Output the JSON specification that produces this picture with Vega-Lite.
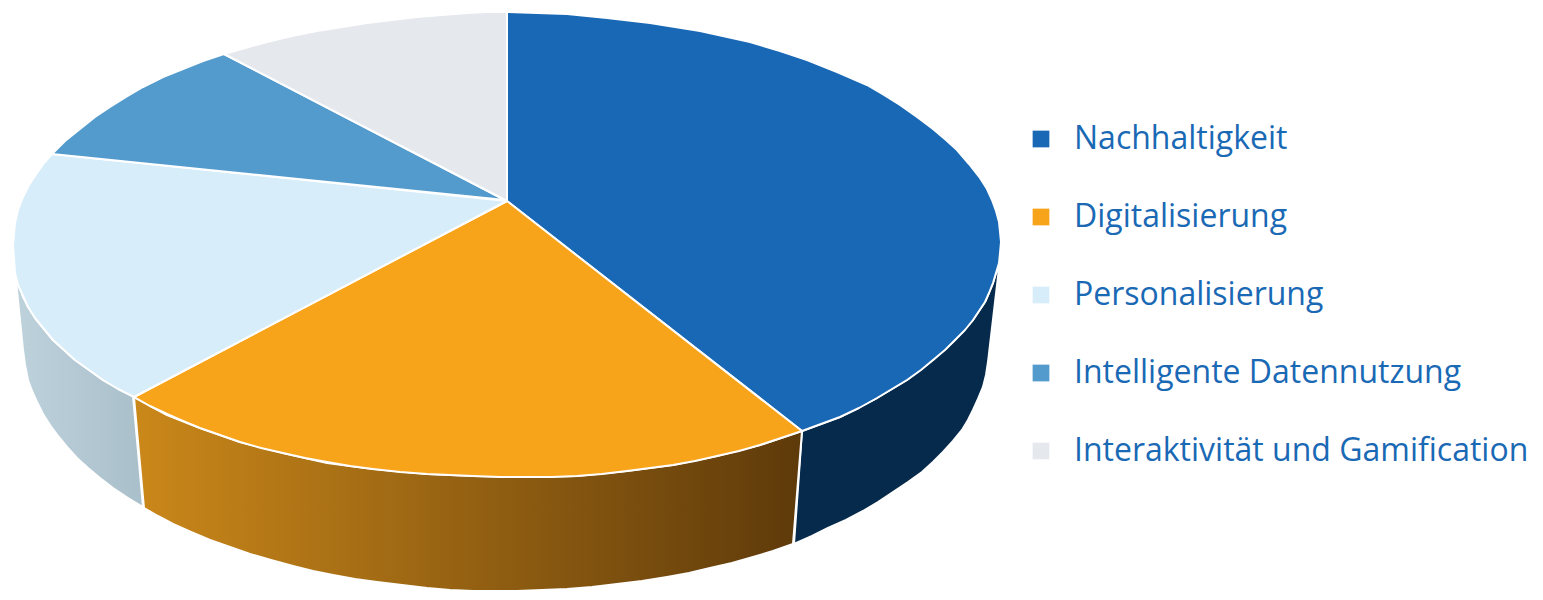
{"$schema":"https://vega.github.io/schema/vega-lite/v6.json","width":1543,"height":600,"padding":0,"autosize":{"type":"fit","contains":"padding"},"background":"white","config":{"view":{"stroke":null}},
"datasets":{
"dark":[{"s":1,"x":999,"y":268},{"s":2,"x":996,"y":273},{"s":3,"x":993,"y":283},{"s":4,"x":985,"y":302},{"s":5,"x":973,"y":320},{"s":6,"x":955,"y":340},{"s":7,"x":933,"y":360},{"s":8,"x":907,"y":380},{"s":9,"x":877,"y":398},{"s":10,"x":840,"y":417},{"s":11,"x":802,"y":431},{"s":12,"x":794,"y":544},{"s":13,"x":812,"y":536},{"s":14,"x":828,"y":528},{"s":15,"x":846,"y":520},{"s":16,"x":863,"y":511},{"s":17,"x":878,"y":502},{"s":18,"x":893,"y":492},{"s":19,"x":908,"y":482},{"s":20,"x":922,"y":472},{"s":21,"x":933,"y":462},{"s":22,"x":943,"y":452},{"s":23,"x":953,"y":441},{"s":24,"x":962,"y":430},{"s":25,"x":968,"y":420},{"s":26,"x":973,"y":410},{"s":27,"x":978,"y":399},{"s":28,"x":983,"y":387},{"s":29,"x":986,"y":375},{"s":30,"x":988,"y":362},{"s":31,"x":999,"y":268}],
"orange":[{"s":1,"x":134,"y":397},{"s":2,"x":167,"y":415},{"s":3,"x":200,"y":428},{"s":4,"x":240,"y":442},{"s":5,"x":283,"y":453},{"s":6,"x":327,"y":463},{"s":7,"x":373,"y":469},{"s":8,"x":427,"y":474},{"s":9,"x":473,"y":476},{"s":10,"x":527,"y":477},{"s":11,"x":577,"y":476},{"s":12,"x":627,"y":471},{"s":13,"x":673,"y":465},{"s":14,"x":717,"y":456},{"s":15,"x":760,"y":445},{"s":16,"x":802,"y":431},{"s":17,"x":793,"y":544},{"s":18,"x":773,"y":551},{"s":19,"x":753,"y":557},{"s":20,"x":732,"y":563},{"s":21,"x":710,"y":568},{"s":22,"x":689,"y":573},{"s":23,"x":667,"y":577},{"s":24,"x":642,"y":581},{"s":25,"x":617,"y":584},{"s":26,"x":592,"y":587},{"s":27,"x":567,"y":589},{"s":28,"x":542,"y":590},{"s":29,"x":517,"y":591},{"s":30,"x":495,"y":591},{"s":31,"x":473,"y":591},{"s":32,"x":450,"y":590},{"s":33,"x":427,"y":588},{"s":34,"x":402,"y":585},{"s":35,"x":377,"y":582},{"s":36,"x":355,"y":579},{"s":37,"x":333,"y":575},{"s":38,"x":313,"y":571},{"s":39,"x":293,"y":566},{"s":40,"x":271,"y":560},{"s":41,"x":250,"y":554},{"s":42,"x":230,"y":547},{"s":43,"x":210,"y":540},{"s":44,"x":191,"y":532},{"s":45,"x":173,"y":524},{"s":46,"x":158,"y":516},{"s":47,"x":144,"y":508},{"s":48,"x":134,"y":397}],
"light":[{"s":1,"x":15,"y":270},{"s":2,"x":23,"y":297},{"s":3,"x":35,"y":318},{"s":4,"x":53,"y":340},{"s":5,"x":75,"y":360},{"s":6,"x":103,"y":380},{"s":7,"x":133,"y":396},{"s":8,"x":143,"y":507},{"s":9,"x":128,"y":498},{"s":10,"x":113,"y":488},{"s":11,"x":100,"y":478},{"s":12,"x":88,"y":468},{"s":13,"x":77,"y":458},{"s":14,"x":67,"y":447},{"s":15,"x":58,"y":436},{"s":16,"x":50,"y":425},{"s":17,"x":43,"y":414},{"s":18,"x":37,"y":402},{"s":19,"x":32,"y":391},{"s":20,"x":28,"y":380},{"s":21,"x":25,"y":365},{"s":22,"x":23,"y":350},{"s":23,"x":15,"y":270}],
"tops":[
{"t":"Nachhaltigkeit","s":1,"x":507,"y":201},{"t":"Nachhaltigkeit","s":2,"x":507,"y":12},{"t":"Nachhaltigkeit","s":3,"x":537,"y":13},{"t":"Nachhaltigkeit","s":4,"x":567,"y":14},{"t":"Nachhaltigkeit","s":5,"x":607,"y":18},{"t":"Nachhaltigkeit","s":6,"x":650,"y":23},{"t":"Nachhaltigkeit","s":7,"x":700,"y":31},{"t":"Nachhaltigkeit","s":8,"x":750,"y":42},{"t":"Nachhaltigkeit","s":9,"x":780,"y":51},{"t":"Nachhaltigkeit","s":10,"x":807,"y":60},{"t":"Nachhaltigkeit","s":11,"x":837,"y":72},{"t":"Nachhaltigkeit","s":12,"x":867,"y":85},{"t":"Nachhaltigkeit","s":13,"x":884,"y":95},{"t":"Nachhaltigkeit","s":14,"x":900,"y":105},{"t":"Nachhaltigkeit","s":15,"x":917,"y":117},{"t":"Nachhaltigkeit","s":16,"x":933,"y":129},{"t":"Nachhaltigkeit","s":17,"x":946,"y":140},{"t":"Nachhaltigkeit","s":18,"x":957,"y":150},{"t":"Nachhaltigkeit","s":19,"x":969,"y":164},{"t":"Nachhaltigkeit","s":20,"x":980,"y":178},{"t":"Nachhaltigkeit","s":21,"x":987,"y":189},{"t":"Nachhaltigkeit","s":22,"x":992,"y":200},{"t":"Nachhaltigkeit","s":23,"x":996,"y":211},{"t":"Nachhaltigkeit","s":24,"x":999,"y":222},{"t":"Nachhaltigkeit","s":25,"x":1000,"y":232},{"t":"Nachhaltigkeit","s":26,"x":1001,"y":242},{"t":"Nachhaltigkeit","s":27,"x":1000,"y":253},{"t":"Nachhaltigkeit","s":28,"x":999,"y":263},{"t":"Nachhaltigkeit","s":29,"x":996,"y":273},{"t":"Nachhaltigkeit","s":30,"x":993,"y":283},{"t":"Nachhaltigkeit","s":31,"x":989,"y":293},{"t":"Nachhaltigkeit","s":32,"x":985,"y":302},{"t":"Nachhaltigkeit","s":33,"x":979,"y":311},{"t":"Nachhaltigkeit","s":34,"x":973,"y":320},{"t":"Nachhaltigkeit","s":35,"x":965,"y":330},{"t":"Nachhaltigkeit","s":36,"x":955,"y":340},{"t":"Nachhaltigkeit","s":37,"x":945,"y":350},{"t":"Nachhaltigkeit","s":38,"x":933,"y":360},{"t":"Nachhaltigkeit","s":39,"x":921,"y":370},{"t":"Nachhaltigkeit","s":40,"x":907,"y":380},{"t":"Nachhaltigkeit","s":41,"x":892,"y":389},{"t":"Nachhaltigkeit","s":42,"x":877,"y":398},{"t":"Nachhaltigkeit","s":43,"x":859,"y":408},{"t":"Nachhaltigkeit","s":44,"x":840,"y":417},{"t":"Nachhaltigkeit","s":45,"x":821,"y":424},{"t":"Nachhaltigkeit","s":46,"x":802,"y":431},{"t":"Nachhaltigkeit","s":47,"x":507,"y":201},
{"t":"Digitalisierung","s":1,"x":507,"y":201},{"t":"Digitalisierung","s":2,"x":802,"y":431},{"t":"Digitalisierung","s":3,"x":781,"y":438},{"t":"Digitalisierung","s":4,"x":760,"y":445},{"t":"Digitalisierung","s":5,"x":739,"y":451},{"t":"Digitalisierung","s":6,"x":717,"y":456},{"t":"Digitalisierung","s":7,"x":695,"y":461},{"t":"Digitalisierung","s":8,"x":673,"y":465},{"t":"Digitalisierung","s":9,"x":650,"y":468},{"t":"Digitalisierung","s":10,"x":627,"y":471},{"t":"Digitalisierung","s":11,"x":602,"y":474},{"t":"Digitalisierung","s":12,"x":577,"y":476},{"t":"Digitalisierung","s":13,"x":552,"y":477},{"t":"Digitalisierung","s":14,"x":527,"y":477},{"t":"Digitalisierung","s":15,"x":500,"y":477},{"t":"Digitalisierung","s":16,"x":473,"y":476},{"t":"Digitalisierung","s":17,"x":450,"y":475},{"t":"Digitalisierung","s":18,"x":427,"y":474},{"t":"Digitalisierung","s":19,"x":400,"y":472},{"t":"Digitalisierung","s":20,"x":373,"y":469},{"t":"Digitalisierung","s":21,"x":350,"y":466},{"t":"Digitalisierung","s":22,"x":327,"y":462},{"t":"Digitalisierung","s":23,"x":305,"y":458},{"t":"Digitalisierung","s":24,"x":283,"y":453},{"t":"Digitalisierung","s":25,"x":261,"y":448},{"t":"Digitalisierung","s":26,"x":240,"y":442},{"t":"Digitalisierung","s":27,"x":220,"y":435},{"t":"Digitalisierung","s":28,"x":200,"y":428},{"t":"Digitalisierung","s":29,"x":183,"y":421},{"t":"Digitalisierung","s":30,"x":167,"y":414},{"t":"Digitalisierung","s":31,"x":150,"y":406},{"t":"Digitalisierung","s":32,"x":134,"y":397},{"t":"Digitalisierung","s":33,"x":507,"y":201},
{"t":"Personalisierung","s":1,"x":507,"y":201},{"t":"Personalisierung","s":2,"x":134,"y":397},{"t":"Personalisierung","s":3,"x":118,"y":389},{"t":"Personalisierung","s":4,"x":103,"y":380},{"t":"Personalisierung","s":5,"x":89,"y":370},{"t":"Personalisierung","s":6,"x":75,"y":360},{"t":"Personalisierung","s":7,"x":64,"y":350},{"t":"Personalisierung","s":8,"x":53,"y":340},{"t":"Personalisierung","s":9,"x":44,"y":329},{"t":"Personalisierung","s":10,"x":35,"y":318},{"t":"Personalisierung","s":11,"x":28,"y":307},{"t":"Personalisierung","s":12,"x":23,"y":296},{"t":"Personalisierung","s":13,"x":18,"y":285},{"t":"Personalisierung","s":14,"x":15,"y":273},{"t":"Personalisierung","s":15,"x":14,"y":259},{"t":"Personalisierung","s":16,"x":13,"y":245},{"t":"Personalisierung","s":17,"x":14,"y":234},{"t":"Personalisierung","s":18,"x":15,"y":223},{"t":"Personalisierung","s":19,"x":18,"y":210},{"t":"Personalisierung","s":20,"x":23,"y":197},{"t":"Personalisierung","s":21,"x":29,"y":185},{"t":"Personalisierung","s":22,"x":37,"y":173},{"t":"Personalisierung","s":23,"x":44,"y":163},{"t":"Personalisierung","s":24,"x":52,"y":154},{"t":"Personalisierung","s":25,"x":507,"y":201},
{"t":"Intelligente Datennutzung","s":1,"x":505,"y":200},{"t":"Intelligente Datennutzung","s":2,"x":52,"y":154},{"t":"Intelligente Datennutzung","s":3,"x":65,"y":141},{"t":"Intelligente Datennutzung","s":4,"x":80,"y":129},{"t":"Intelligente Datennutzung","s":5,"x":95,"y":117},{"t":"Intelligente Datennutzung","s":6,"x":110,"y":107},{"t":"Intelligente Datennutzung","s":7,"x":126,"y":97},{"t":"Intelligente Datennutzung","s":8,"x":143,"y":87},{"t":"Intelligente Datennutzung","s":9,"x":163,"y":77},{"t":"Intelligente Datennutzung","s":10,"x":183,"y":69},{"t":"Intelligente Datennutzung","s":11,"x":203,"y":61},{"t":"Intelligente Datennutzung","s":12,"x":224,"y":54},{"t":"Intelligente Datennutzung","s":13,"x":505,"y":200},
{"t":"Interaktivität und Gamification","s":1,"x":507,"y":201},{"t":"Interaktivität und Gamification","s":2,"x":224,"y":54},{"t":"Interaktivität und Gamification","s":3,"x":245,"y":48},{"t":"Interaktivität und Gamification","s":4,"x":267,"y":42},{"t":"Interaktivität und Gamification","s":5,"x":292,"y":36},{"t":"Interaktivität und Gamification","s":6,"x":317,"y":31},{"t":"Interaktivität und Gamification","s":7,"x":342,"y":27},{"t":"Interaktivität und Gamification","s":8,"x":367,"y":23},{"t":"Interaktivität und Gamification","s":9,"x":392,"y":20},{"t":"Interaktivität und Gamification","s":10,"x":417,"y":17},{"t":"Interaktivität und Gamification","s":11,"x":442,"y":15},{"t":"Interaktivität und Gamification","s":12,"x":467,"y":13},{"t":"Interaktivität und Gamification","s":13,"x":487,"y":12},{"t":"Interaktivität und Gamification","s":14,"x":507,"y":12},{"t":"Interaktivität und Gamification","s":15,"x":507,"y":201}
]},
"layer":[
{"data":{"name":"dark"},"mark":{"type":"line","fill":"#062a4c","stroke":"white","strokeWidth":2,"strokeJoin":"round"},"encoding":{"x":{"field":"x","type":"quantitative","scale":{"domain":[0,1543]},"axis":null},"y":{"field":"y","type":"quantitative","scale":{"domain":[600,0]},"axis":null},"order":{"field":"s"}}},
{"data":{"name":"orange"},"mark":{"type":"line","fill":{"gradient":"linear","x1":0,"y1":0,"x2":1,"y2":0,"stops":[{"offset":0,"color":"#cb881a"},{"offset":1,"color":"#5e3a0a"}]},"stroke":"white","strokeWidth":2,"strokeJoin":"round"},"encoding":{"x":{"field":"x","type":"quantitative","scale":{"domain":[0,1543]},"axis":null},"y":{"field":"y","type":"quantitative","scale":{"domain":[600,0]},"axis":null},"order":{"field":"s"}}},
{"data":{"name":"light"},"mark":{"type":"line","fill":{"gradient":"linear","x1":0,"y1":0,"x2":1,"y2":0,"stops":[{"offset":0,"color":"#bed2dc"},{"offset":1,"color":"#a9bfca"}]},"stroke":"white","strokeWidth":2,"strokeJoin":"round"},"encoding":{"x":{"field":"x","type":"quantitative","scale":{"domain":[0,1543]},"axis":null},"y":{"field":"y","type":"quantitative","scale":{"domain":[600,0]},"axis":null},"order":{"field":"s"}}},
{"data":{"name":"tops"},"mark":{"type":"line","filled":true,"stroke":"white","strokeWidth":2,"strokeJoin":"round"},"encoding":{"x":{"field":"x","type":"quantitative","scale":{"domain":[0,1543]},"axis":null},"y":{"field":"y","type":"quantitative","scale":{"domain":[600,0]},"axis":null},"order":{"field":"s"},"fill":{"field":"t","type":"nominal","scale":{"domain":["Nachhaltigkeit","Digitalisierung","Personalisierung","Intelligente Datennutzung","Interaktivität und Gamification"],"range":["#1968b5","#f8a41b","#d8edfa","#549bcd","#e5e8ed"]},"legend":{"title":null,"orient":"none","legendX":1025,"legendY":123,"symbolType":"square","symbolSize":280,"symbolStrokeWidth":0,"symbolOpacity":1,"labelFont":"Open Sans","labelFontSize":32,"labelColor":"#1a69b5","labelOffset":17,"rowPadding":46,"labelLimit":520,"symbolOffset":0}}}}
]}
